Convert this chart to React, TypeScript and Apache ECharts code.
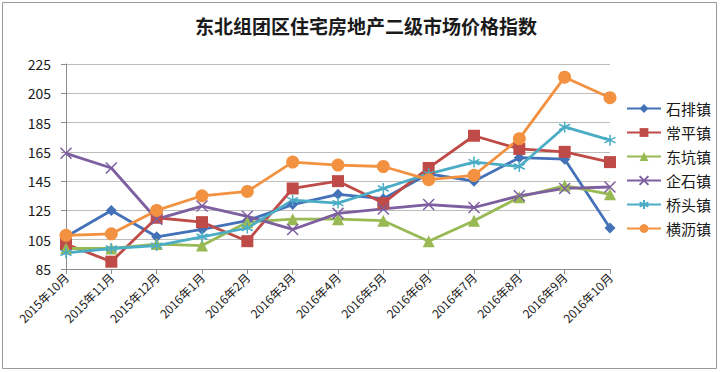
import React, { useEffect, useRef } from "react";
import * as echarts from "echarts";

const categories = [
  "2015年10月", "2015年11月", "2015年12月", "2016年1月", "2016年2月", "2016年3月",
  "2016年4月", "2016年5月", "2016年6月", "2016年7月", "2016年8月", "2016年9月", "2016年10月",
];

const shipai = [107, 125, 107, 112, 118, 129, 136, 133, 150, 145, 161, 160, 113];
const changping = [102, 90, 120, 117, 104, 140, 145, 130, 154, 176, 167, 165, 158];
const dongkeng = [99, 99, 102, 101, 117, 119, 119, 118, 104, 118, 134, 142, 136];
const qishi = [164, 154, 119, 128, 121, 112, 123, 126, 129, 127, 135, 140, 141];
const qiaotou = [96, 99, 101, 107, 113, 132, 130, 140, 150, 158, 155, 182, 173];
const hengli = [108, 109, 125, 135, 138, 158, 156, 155, 146, 149, 174, 216, 202];

const yTicks = { min: 85, max: 225, interval: 20 };

const seriesDefs = [
  { name: "石排镇", data: shipai, color: "#4472B8", symbol: "diamond", size: 11 },
  { name: "常平镇", data: changping, color: "#BE4B48", symbol: "rect", size: 12 },
  { name: "东坑镇", data: dongkeng, color: "#98B954", symbol: "triangle", size: 12 },
  { name: "企石镇", data: qishi, color: "#7D5FA0", symbol: "path://M0,0L10,10M10,0L0,10", size: 11 },
  { name: "桥头镇", data: qiaotou, color: "#4AACC5", symbol: "path://M5,0L5,10M0,2.5L10,7.5M0,7.5L10,2.5", size: 11 },
  { name: "横沥镇", data: hengli, color: "#F29240", symbol: "circle", size: 13 },
];

export default function App() {
  const ref = useRef<HTMLDivElement>(null);
  useEffect(() => {
    if (!ref.current) return;
    const chart = echarts.init(ref.current, undefined, { renderer: "svg" });
    const font = "'Noto Sans CJK SC', 'Noto Sans', sans-serif";
    chart.setOption({
      animation: false,
      backgroundColor: "#ffffff",
      title: {
        text: "东北组团区住宅房地产二级市场价格指数",
        left: 361,
        textAlign: "center",
        top: 11,
        textStyle: { fontSize: 19, fontWeight: "bold", color: "#1a1a1a", fontFamily: font },
      },
      graphic: [
        {
          type: "rect",
          shape: { x: 2.5, y: 2.5, width: 714, height: 366 },
          style: { fill: "none", stroke: "#9a9a9a", lineWidth: 1 },
          silent: true,
        },
      ],
      legend: {
        orient: "vertical",
        left: 621,
        top: 96,
        itemWidth: 34,
        itemHeight: 11,
        itemGap: 9,
        textStyle: { fontSize: 15, color: "#1a1a1a", fontFamily: font },
        data: seriesDefs.map((s) => s.name),
      },
      grid: { left: 66, right: 110, top: 64, bottom: 103, containLabel: false },
      xAxis: {
        type: "category",
        data: categories,
        boundaryGap: false,
        axisLine: { lineStyle: { color: "#8c8c8c" } },
        axisTick: { show: true, length: 5, alignWithLabel: true, lineStyle: { color: "#8c8c8c" } },
        axisLabel: {
          rotate: 45,
          fontSize: 12,
          color: "#1a1a1a",
          fontFamily: font,
          interval: 0,
          margin: 6,
        },
      },
      yAxis: {
        type: "value",
        min: yTicks.min,
        max: yTicks.max,
        interval: yTicks.interval,
        axisLine: { show: true, lineStyle: { color: "#8c8c8c" } },
        axisTick: { show: true, length: 5, lineStyle: { color: "#8c8c8c" } },
        axisLabel: { fontSize: 14, color: "#1a1a1a", fontFamily: font, margin: 15 },
        splitLine: { lineStyle: { color: "#BDBDBD", width: 1 } },
      },
      series: seriesDefs.map((s) => ({
        name: s.name,
        type: "line",
        data: s.data,
        symbol: s.symbol,
        symbolSize: s.size,
        showAllSymbol: true,
        lineStyle: { color: s.color, width: 2.8 },
        itemStyle: { color: s.color, borderColor: s.color, borderWidth: s.symbol.startsWith("path") ? 1.5 : 0 },
        emphasis: { disabled: true },
      })),
    });
    return () => chart.dispose();
  }, []);
  return (
    <div
      ref={ref}
      style={{ position: "fixed", left: 0, top: 0, width: 720, height: 372 }}
    />
  );
}
